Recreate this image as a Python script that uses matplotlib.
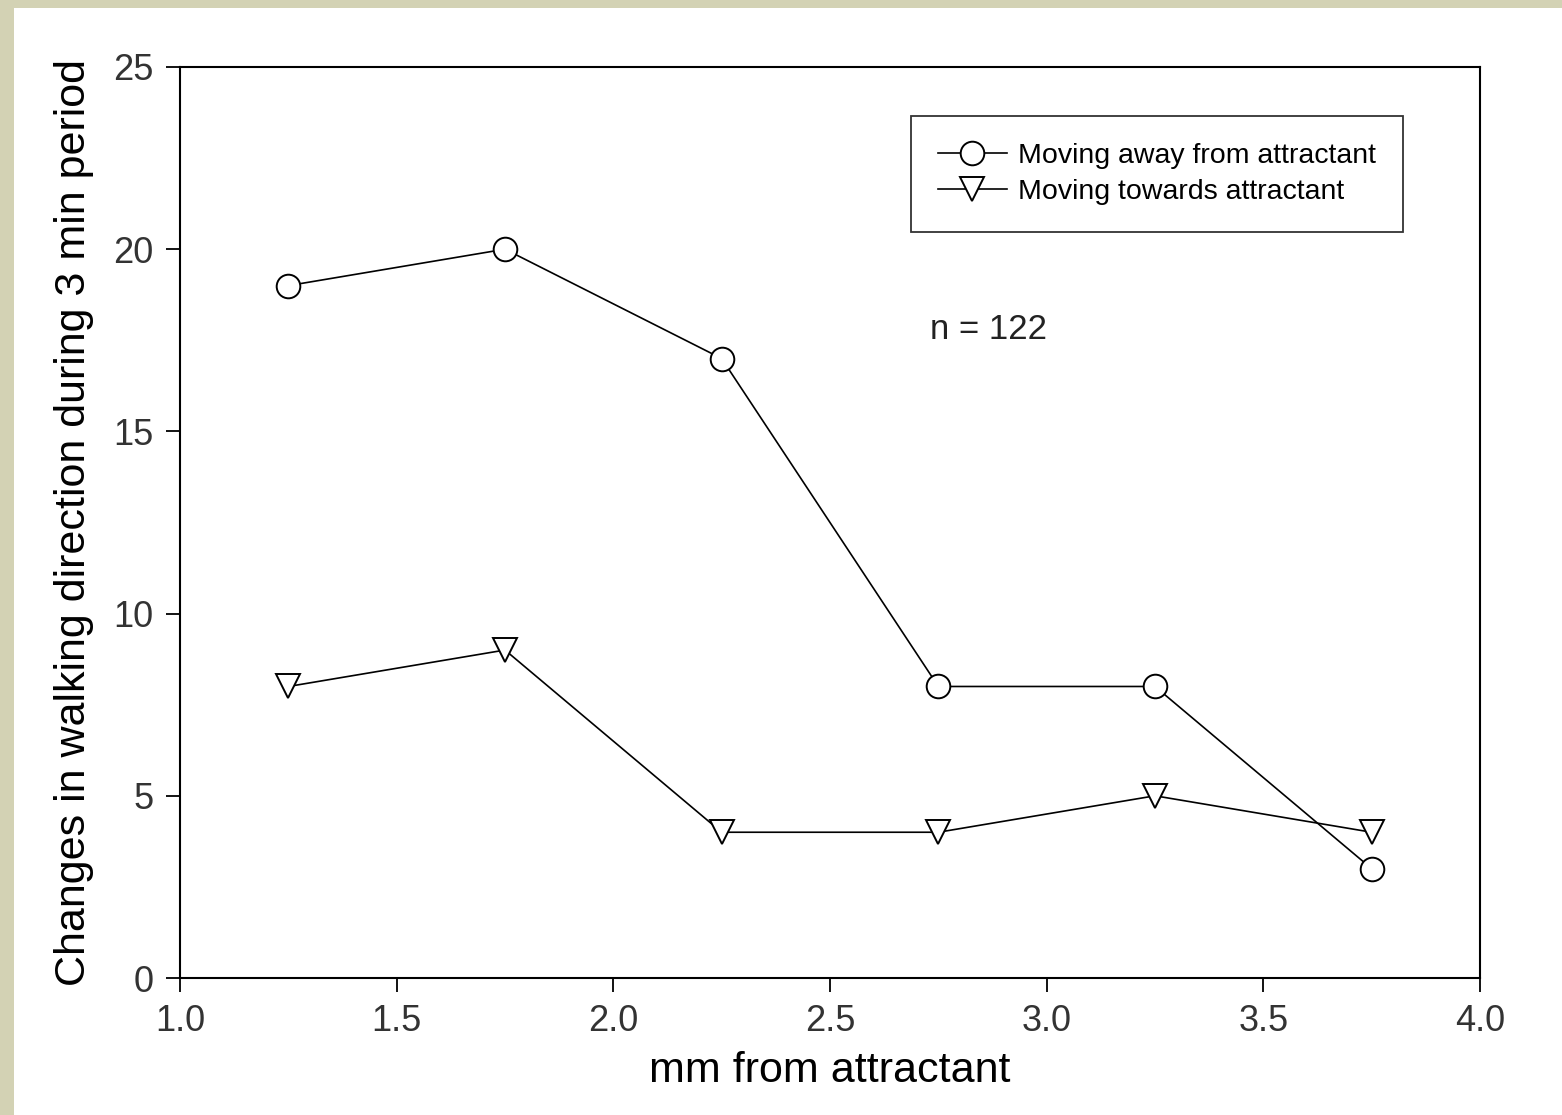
import numpy as np
import matplotlib.pyplot as plt
from matplotlib.patches import Rectangle

# distance from attractant (mm) and counts of direction changes
distance = [1.25, 1.75, 2.25, 2.75, 3.25, 3.75]
moving_away = [19, 20, 17, 8, 8, 3]
moving_towards = [8, 9, 4, 4, 5, 4]

xticks = [1.0, 1.5, 2.0, 2.5, 3.0, 3.5, 4.0]
yticks = [0, 5, 10, 15, 20, 25]

plt.rcParams['font.family'] = ['Liberation Sans', 'DejaVu Sans']

fig = plt.figure(figsize=(15.62, 11.15), dpi=100)
fig.patch.set_facecolor('#d3d2b4')
# white slide panel behind the plot
fig.patches.append(Rectangle((14 / 1562, 0), 1, 1 - 8 / 1115,
                             transform=fig.transFigure, facecolor='white',
                             edgecolor='none', zorder=-10))

ax = fig.add_axes([180 / 1562, 1 - 978 / 1115, 1300 / 1562, 911 / 1115])
ax.set_zorder(1)
ax.set_facecolor('white')

ax.plot(distance, moving_away, color='black', lw=1.2, marker='o', ms=17,
        mfc='white', mec='black', mew=1.4, label='Moving away from attractant')
ax.plot(distance, moving_towards, color='black', lw=1.2, marker='v', ms=17,
        mfc='white', mec='black', mew=1.4, label='Moving towards attractant')

ax.set_xlim(1.0, 4.0)
ax.set_ylim(0, 25)
ax.set_xticks(xticks)
ax.set_xticklabels(['%.1f' % t for t in xticks])
ax.set_yticks(yticks)
ax.tick_params(direction='out', length=10, width=1.3, labelsize=26,
               labelcolor='#333333', pad=9, top=False, right=False)
for s in ax.spines.values():
    s.set_linewidth(1.5)

ax.set_xlabel('mm from attractant', fontsize=31, labelpad=8)
ax.set_ylabel('Changes in walking direction during 3 min period', fontsize=31,
              labelpad=14)

leg = ax.legend(loc='upper right', bbox_to_anchor=(0.9408, 0.9462),
                borderaxespad=0, fontsize=20.5, frameon=True, fancybox=False,
                edgecolor='black', handlelength=2.4, handletextpad=0.4,
                borderpad=0.95, labelspacing=0.35)
leg.get_frame().set_linewidth(1.3)

ax.text(2.73, 17.8, 'n = 122', fontsize=25, color='#222222',
        va='center', ha='left')

fig.savefig('out.png', dpi=100, facecolor=fig.get_facecolor())
